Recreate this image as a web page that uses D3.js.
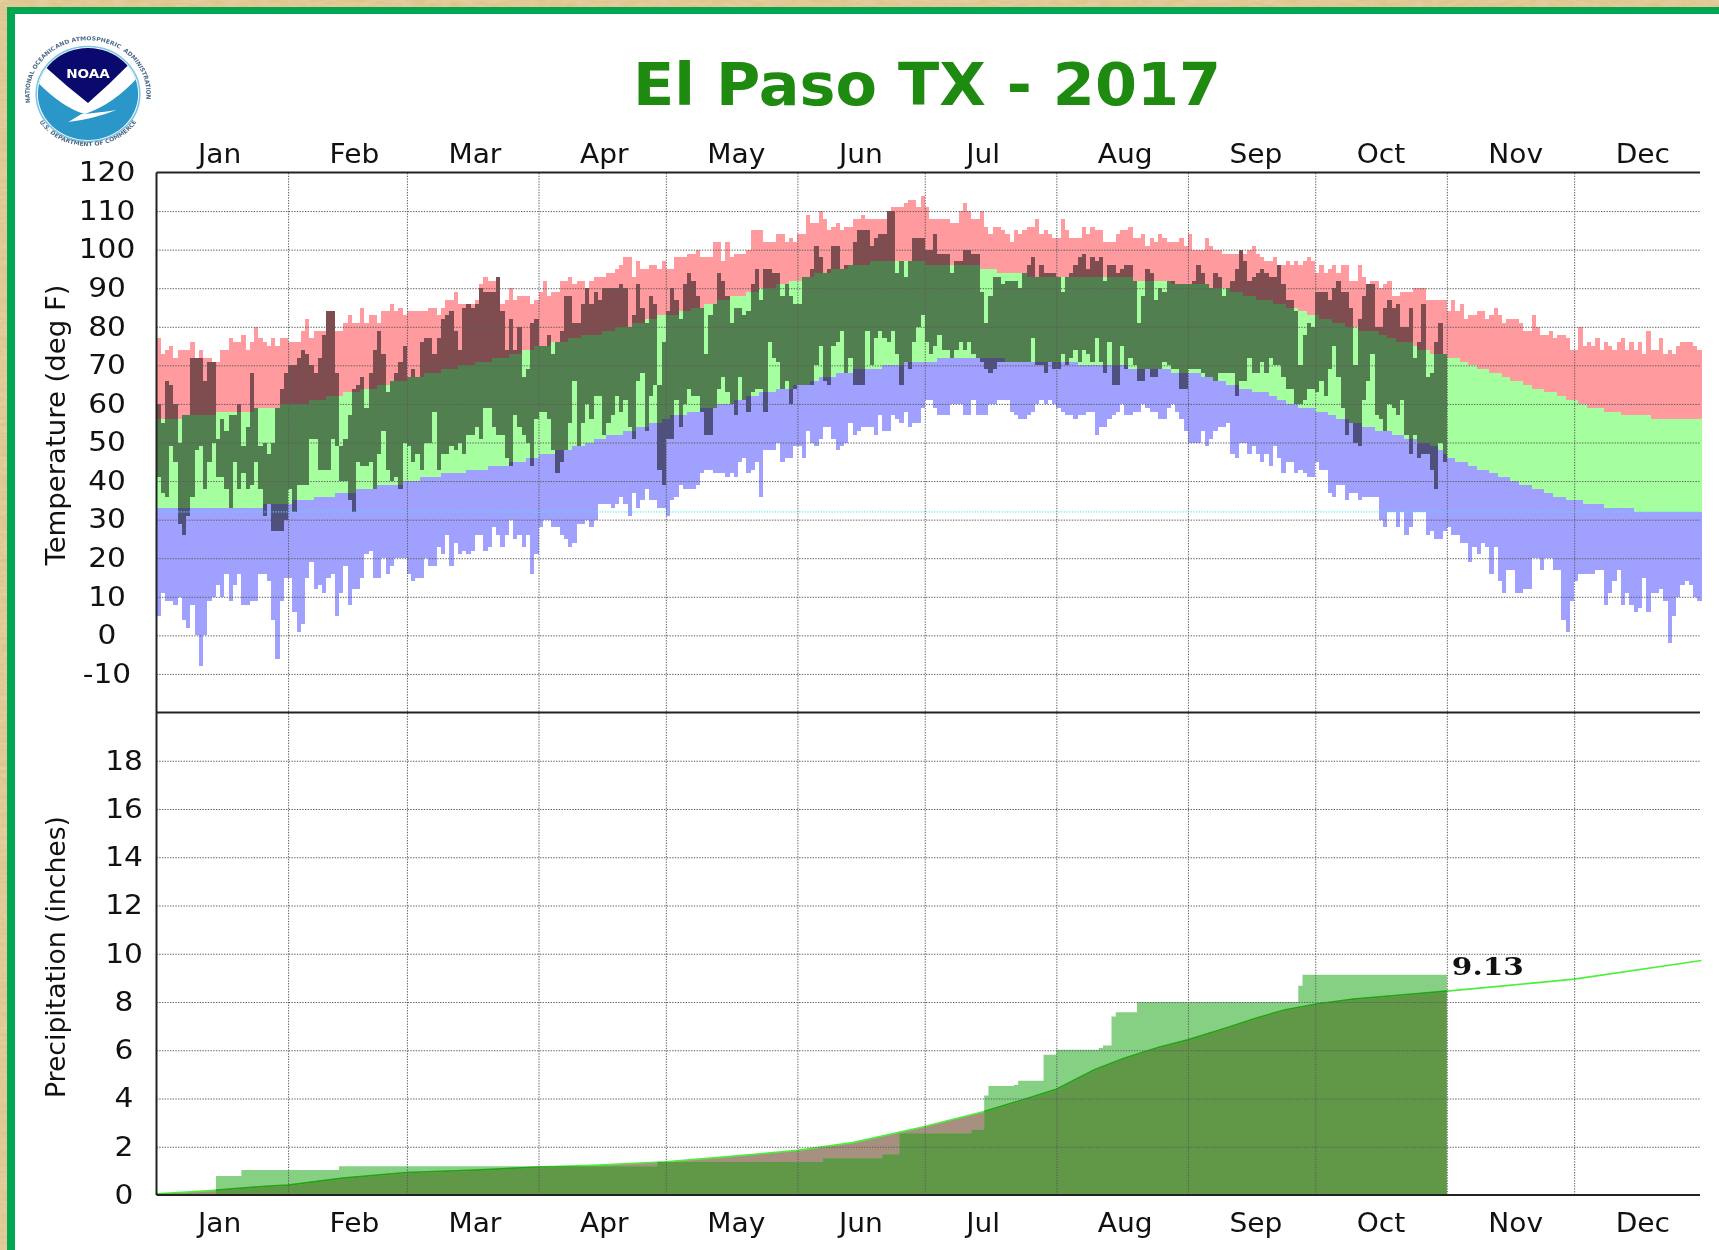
<!DOCTYPE html>
<html>
<head>
<meta charset="utf-8">
<title>El Paso TX - 2017</title>
<script src="https://cdn.jsdelivr.net/npm/d3@7"></script>
<style>
html, body { margin: 0; padding: 0; background: #fff; }
svg { display: block; filter: blur(0.5px); }
text { font-family: "DejaVu Sans", Verdana, sans-serif; fill: #111; }
</style>
</head>
<body>
<div id="container"></div>
<script>
// svg size
const width = 1719;
const height = 1250;

// plot frame
const plotLeft = 156.5;
const plotRight = 1700;
const plotTop = 172.5;
const plotSplit = 712.5;
const plotBottom = 1195;

// font
const tickFontSize = 26;
const tickStretch = 1.14; // the labels of the original are a bit wider than DejaVu
const monthStretch = 1.08;

// colours
const recordHighColor = "#ff9a9f";
const normalColor = "#a5ff9f";
const recordLowColor = "#a0a0ff";
const gridColor = "#5c5c5c";
const precipAboveColor = "#86d084";
const precipOverlapColor = "#609848";
const precipBelowColor = "#a89080";
const titleColor = "#1f8a10";

// labels
const titleText = "El Paso TX - 2017";
const monthNames = ["Jan", "Feb", "Mar", "Apr", "May", "Jun", "Jul", "Aug", "Sep", "Oct", "Nov", "Dec"];
const monthStarts = [0, 31, 59, 90, 120, 151, 181, 212, 243, 273, 304, 334];
const tempTicks = [-10, 0, 10, 20, 30, 40, 50, 60, 70, 80, 90, 100, 110, 120];
const precipTicks = [0, 2, 4, 6, 8, 10, 12, 14, 16, 18];
const freezing = 32;
const precipTotal = "9.13";

// temperatures, one value per day
const recordHigh = [
  77,73,74,75,72,74,74,74,76,72,74,72,72,71,71,74,74,77,76,76,78,74,76,80,77,76,75,77,75,77,77,
  76,76,76,79,82,77,79,79,79,84,84,79,79,81,83,81,81,85,81,83,83,81,84,84,86,84,85,83,
  84,84,84,84,84,85,85,83,85,87,87,89,86,86,86,86,87,91,93,92,92,93,86,87,90,87,88,88,88,86,87,
  89,92,88,89,89,92,92,93,91,92,92,90,92,93,93,93,94,94,95,96,98,98,93,97,95,95,96,96,95,97,
  95,95,98,98,98,99,99,100,98,98,98,102,102,97,102,98,99,99,99,100,105,105,105,102,102,102,104,104,102,103,102,
  104,104,109,107,107,110,108,105,106,107,105,106,106,108,108,109,108,108,108,108,108,110,111,111,111,112,113,113,111,114,
  111,108,108,108,108,108,107,107,110,112,110,108,108,110,106,104,106,106,105,104,102,105,104,105,106,106,108,104,105,104,103,
  103,108,105,103,103,103,106,104,106,105,105,102,102,102,104,105,105,106,103,103,104,101,103,102,104,103,102,102,102,103,101,
  104,100,100,100,103,101,100,100,99,99,99,99,100,99,100,101,99,98,97,97,98,96,96,97,96,97,96,97,98,97,
  94,96,94,95,96,94,96,96,92,92,96,93,91,92,92,90,91,92,88,88,89,89,89,90,90,90,87,87,87,87,87,
  84,87,84,86,82,83,83,84,84,82,83,85,83,81,82,82,82,81,79,79,83,80,78,78,79,77,78,78,77,74,
  74,80,75,76,75,77,74,76,75,74,76,77,74,76,74,76,73,79,74,74,77,73,74,73,75,76,76,76,75,74
];
const recordLow = [
  5,11,9,9,8,10,4,2,8,0,-8,0,9,10,13,10,16,9,13,16,8,8,9,9,16,16,14,4,-6,9,15,
  15,6,1,3,15,19,12,13,11,15,16,5,11,18,8,12,12,15,21,22,15,15,20,16,18,20,20,20,
  16,14,15,15,20,18,18,23,21,26,18,24,21,22,21,22,26,26,22,23,28,26,23,26,30,25,26,23,26,16,21,
  28,30,30,28,28,26,25,23,24,29,29,30,28,30,34,34,34,33,34,36,34,31,37,33,35,38,35,35,33,33,
  31,35,36,39,38,38,38,39,42,43,43,42,42,42,41,42,41,45,46,42,43,45,36,48,48,48,50,45,46,46,49,
  49,46,53,50,49,51,54,54,51,48,49,50,55,52,53,54,54,54,52,57,53,53,57,56,55,58,54,55,55,59,
  61,61,59,57,57,57,60,60,60,57,57,61,57,57,57,60,60,61,61,61,58,57,56,56,57,58,60,61,60,61,60,
  59,58,57,57,56,57,57,58,58,52,54,54,56,57,58,60,57,57,58,58,60,59,58,58,56,56,59,60,58,56,53,
  50,50,50,53,49,51,53,54,54,55,47,46,50,50,47,49,47,45,47,44,49,46,42,45,45,42,43,42,41,41,
  45,43,43,37,36,39,39,35,37,37,35,36,36,36,36,30,28,32,32,28,32,26,28,32,32,32,26,27,25,25,27,
  28,26,26,24,24,19,23,21,24,23,16,23,14,11,17,17,11,11,12,12,20,20,17,20,20,17,17,4,1,9,
  14,16,16,16,16,17,17,8,11,14,17,8,11,8,6,7,15,6,11,11,12,9,-2,5,10,13,14,13,10,9
];
const normalHigh = [
  56,56,56,56,56,56,57,57,57,57,57,57,57,57,58,58,58,58,58,58,58,58,58,59,59,59,59,59,59,60,60,
  60,60,60,60,60,61,61,61,61,62,62,62,62,63,63,63,63,64,64,64,64,65,65,65,66,66,66,66,
  67,67,67,67,68,68,68,68,69,69,69,69,70,70,70,70,71,71,71,71,72,72,72,72,73,73,73,74,74,74,75,
  75,75,75,76,76,76,76,77,77,77,78,78,78,78,78,79,79,79,80,80,80,80,81,81,81,82,82,82,83,83,
  83,83,83,84,84,84,85,85,85,86,86,86,87,87,87,88,88,88,88,89,89,89,90,90,90,90,91,91,91,92,92,
  92,93,93,93,94,94,94,94,95,95,95,95,96,96,96,96,96,97,97,97,97,97,97,97,97,97,97,97,97,97,
  96,96,96,96,96,96,96,96,96,96,96,96,96,95,95,95,95,94,94,94,94,94,94,94,93,93,93,93,93,93,93,
  93,93,93,93,93,93,93,93,93,93,93,93,93,93,93,93,93,93,92,92,92,92,92,92,92,92,92,91,91,91,91,
  91,91,91,91,91,90,90,90,90,90,89,89,89,88,88,88,87,87,87,87,86,86,86,85,85,85,84,84,83,83,
  83,82,82,82,81,81,81,80,80,80,79,79,79,79,79,78,78,77,77,76,76,76,76,75,74,74,74,73,73,73,73,
  72,72,72,71,71,70,70,69,69,69,68,68,68,67,67,66,66,66,65,65,64,64,64,63,63,63,62,62,61,61,
  61,60,60,59,59,59,59,58,58,58,58,57,57,57,57,57,57,57,56,56,56,56,56,56,56,56,56,56,56,56
];
const normalLow = [
  33,33,33,33,33,33,33,33,33,33,33,33,33,33,33,33,33,33,33,33,33,33,33,33,33,34,34,34,34,34,34,
  34,35,35,35,35,35,36,36,36,36,36,37,37,37,37,37,38,38,38,38,38,39,39,39,39,39,39,40,
  40,40,40,41,41,41,41,41,42,42,42,42,42,42,43,43,43,43,43,44,44,44,44,44,45,45,45,45,46,46,46,
  47,47,47,47,48,48,48,48,49,49,49,50,50,51,51,51,52,52,52,52,53,53,53,54,54,54,55,55,55,56,
  56,57,57,57,57,58,58,58,59,59,59,59,60,60,60,60,61,61,61,62,62,62,63,63,63,63,64,64,64,64,65,
  65,65,65,66,66,67,67,67,67,68,68,68,68,69,69,69,69,69,69,69,70,70,70,70,70,71,71,71,71,71,
  71,71,71,72,72,72,72,72,72,72,72,72,72,72,72,72,72,72,72,71,71,71,71,71,71,71,71,71,71,71,71,
  71,71,71,71,71,70,70,70,70,70,70,70,70,70,70,70,70,69,69,69,69,69,69,69,69,69,69,68,68,68,68,
  68,68,68,67,67,67,66,66,66,65,65,65,64,64,64,63,63,63,63,62,62,61,61,60,60,60,59,59,59,59,
  58,58,58,57,57,56,56,56,55,55,55,54,54,54,53,53,53,53,52,52,52,51,51,51,50,50,50,49,49,48,47,
  46,46,45,45,45,44,44,43,43,43,42,42,41,41,41,40,40,39,39,39,38,38,38,37,37,36,36,36,35,35,
  35,35,34,34,34,34,34,33,33,33,33,33,33,33,32,32,32,32,32,32,32,32,32,32,32,32,32,32,32,32
];
// observed days stop at the end of October
const observedHigh = [
  60,55,66,65,60,50,57,57,72,72,72,66,71,71,51,56,53,57,57,60,49,54,68,59,49,50,47,50,59,64,68,
  70,70,72,74,73,70,68,72,78,84,84,68,49,51,57,64,65,67,59,68,74,79,73,63,66,68,71,75,
  67,69,67,76,77,77,73,77,82,83,84,79,74,85,86,85,86,90,89,89,89,93,84,74,82,74,80,67,69,81,82,
  75,75,78,73,76,79,88,88,81,81,86,90,86,89,87,90,90,90,90,91,90,80,83,91,85,81,88,86,65,76,
  84,90,87,82,91,94,92,88,85,73,83,86,94,92,88,81,85,85,83,84,91,95,87,95,95,94,94,88,91,88,86,
  86,93,93,95,101,98,94,95,101,101,95,96,96,102,105,105,105,101,103,104,104,110,110,94,97,93,97,103,103,103,
  100,100,104,99,99,99,94,97,97,100,100,99,99,89,81,88,93,93,91,92,92,92,90,94,96,98,93,96,94,94,94,
  93,89,93,94,96,98,99,95,98,97,98,92,96,96,94,95,96,96,92,81,88,95,94,87,90,89,92,92,91,91,91,
  91,92,96,94,91,90,94,93,88,90,92,95,100,97,92,93,94,95,94,93,93,96,91,87,87,84,70,78,81,80,
  89,89,89,87,90,92,89,89,85,70,82,88,91,91,80,80,85,87,85,86,80,80,85,72,76,86,67,68,76,81,73
];
const observedLow = [
  41,37,36,49,45,29,26,31,36,48,49,38,45,50,41,41,38,33,45,38,42,38,39,45,38,31,34,27,27,27,30,
  38,32,39,39,39,51,51,43,43,43,51,49,40,40,35,32,45,44,44,45,38,47,53,43,40,41,38,50,
  49,45,47,43,50,50,58,43,47,47,49,48,50,47,52,52,54,51,59,59,54,52,52,46,44,57,54,52,50,44,56,
  58,58,56,48,42,45,48,55,66,49,55,60,56,62,62,52,55,57,62,58,61,54,51,66,68,53,62,65,43,39,
  51,51,61,54,60,64,62,62,58,52,52,59,64,67,63,60,57,67,61,58,63,64,64,58,76,72,71,64,66,60,64,
  65,65,65,65,70,75,66,65,75,76,79,68,72,65,65,65,79,70,77,79,77,76,79,73,65,71,69,76,80,83,
  76,73,75,78,74,74,72,74,76,74,76,73,72,71,69,68,69,71,71,71,71,71,71,71,71,77,70,70,68,71,69,
  69,73,70,72,74,71,74,73,71,77,71,68,76,65,65,75,69,72,70,66,66,69,67,67,69,71,70,69,69,64,64,
  69,69,69,68,67,67,66,68,68,68,68,62,66,66,72,68,68,71,68,72,70,70,67,64,64,60,60,61,64,64,
  63,66,62,69,75,67,59,52,55,50,49,61,66,73,57,56,53,60,59,57,61,52,47,52,46,47,47,43,38,50,45
];

// precipitation, curve points of the normal and the steps of the observed total
const normalPrecipDays = [0, 12, 25, 31, 44, 59, 74, 90, 104, 120, 134, 151, 164, 180, 195, 204, 212, 221, 228, 236, 243, 252, 259, 266, 273, 282, 294, 304, 318, 334, 364];
const normalPrecip = [0.05, 0.17, 0.35, 0.41, 0.7, 0.93, 1.02, 1.16, 1.24, 1.38, 1.58, 1.85, 2.17, 2.8, 3.46, 3.94, 4.38, 5.19, 5.67, 6.11, 6.43, 6.92, 7.33, 7.68, 7.91, 8.12, 8.3, 8.45, 8.68, 8.95, 9.72];
const observedPrecipDays = [0, 14, 20, 43, 118, 157, 171, 175, 192, 195, 196, 202, 203, 209, 212, 222, 223, 225, 226, 231, 269, 270, 304];
const observedPrecip = [0.05, 0.79, 1.04, 1.19, 1.37, 1.52, 1.69, 2.56, 2.7, 4.12, 4.52, 4.56, 4.74, 5.81, 6.02, 6.09, 6.2, 7.4, 7.57, 8.0, 8.67, 9.13, 9.13];

// do not modify past this point

const svg = d3.select("#container").append("svg")
  .attr("width", width)
  .attr("height", height)
  .attr("viewBox", [0, 0, width, height]);

const defs = svg.append("defs");

const x = d3.scaleLinear().domain([0, 364]).range([plotLeft, plotRight + 1.5]);
const yTemp = d3.scaleLinear().domain([-20, 120]).range([plotSplit, plotTop]);
const yPrecip = d3.scaleLinear().domain([0, 20]).range([plotBottom, plotSplit]);

function drawFrame() {
  // rough tan paper behind the green border
  const paper = defs.append("filter").attr("id", "paper")
    .attr("x", 0).attr("y", 0).attr("width", 1).attr("height", 1);
  paper.append("feTurbulence").attr("type", "fractalNoise").attr("baseFrequency", "0.08 0.3")
    .attr("numOctaves", 2).attr("seed", 4).attr("result", "noise");
  paper.append("feColorMatrix").attr("in", "noise").attr("type", "matrix")
    .attr("values", "0 0 0 0 0.82  0 0 0 0 0.67  0 0 0 0 0.40  0.9 0 0 0 -0.1").attr("result", "tint");
  paper.append("feBlend").attr("in", "tint").attr("in2", "SourceGraphic");

  svg.append("rect").attr("width", width).attr("height", height).attr("fill", "#fff");
  svg.append("rect").attr("width", width).attr("height", 8).attr("fill", "#dcc288").attr("filter", "url(#paper)");
  svg.append("rect").attr("width", 7).attr("height", height).attr("fill", "#dcc288").attr("filter", "url(#paper)");
  svg.append("rect").attr("x", 7).attr("y", 7).attr("width", width - 7).attr("height", 7).attr("fill", "#00a651");
  svg.append("rect").attr("x", 7).attr("y", 7).attr("width", 8).attr("height", height - 7).attr("fill", "#00a651");
}

function drawLogo() {
  const logo = svg.append("g").attr("transform", "translate(88,94) scale(1.09,1)");

  defs.append("clipPath").attr("id", "disc").append("circle").attr("r", 46);
  defs.append("path").attr("id", "ringLeft").attr("d", "M-53,8 A53.5,53.5 0 0 1 -30,-44.5");
  defs.append("path").attr("id", "ringTop").attr("d", "M-30,-44.5 A53.5,53.5 0 0 1 30,-44.5");
  defs.append("path").attr("id", "ringRight").attr("d", "M30,-44.5 A53.5,53.5 0 0 1 53,8");
  defs.append("path").attr("id", "ringBottom").attr("d", "M-44,29 A53.5,53.5 0 0 0 44,29");

  logo.append("circle").attr("r", 46).attr("fill", "#2b97c9");
  logo.append("circle").attr("r", 47.5).attr("fill", "none").attr("stroke", "#7fc4de").attr("stroke-width", 1.5);

  const inner = logo.append("g").attr("clip-path", "url(#disc)");
  inner.append("path").attr("fill", "#fff")
    .attr("d", "M-50,-16 Q-25,13 -3,20 Q25,10 50,-22 L50,-50 L-50,-50 Z");
  inner.append("path").attr("fill", "#0a0a6e")
    .attr("d", "M-39,-27 A46,46 0 0 1 37,-29 Q20,-10 0,9 Q-20,-8 -39,-27 Z");
  inner.append("path").attr("fill", "#fff")
    .attr("d", "M-18,28 Q5,25 26,16 Q8,19 -6,20 Z");

  logo.append("text").attr("y", -16).attr("text-anchor", "middle")
    .attr("font-size", 12.5).attr("font-weight", "bold").style("fill", "#fff").text("NOAA");

  const ringText = (pathId, label) => logo.append("text")
    .attr("font-size", 5.6).attr("font-weight", "bold").style("fill", "#4a6a8a")
    .append("textPath").attr("href", "#" + pathId).attr("startOffset", "50%").attr("text-anchor", "middle")
    .text(label);

  ringText("ringLeft", "NATIONAL OCEANIC");
  ringText("ringTop", "AND ATMOSPHERIC");
  ringText("ringRight", "ADMINISTRATION");
  ringText("ringBottom", "U.S. DEPARTMENT OF COMMERCE");
}

function dayBars(data, name, fill, opacity, top, bottom) {
  // rounded so that neighbouring translucent bars do not overlap
  svg.append("g").attr("class", name)
    .attr("shape-rendering", "crispEdges")
    .attr("fill", fill)
    .attr("fill-opacity", opacity)
    .selectAll("rect")
    .data(data)
    .join("rect")
    .attr("x", (d, i) => Math.round(x(i)))
    .attr("width", (d, i) => Math.round(x(i + 1)) - Math.round(x(i)))
    .attr("y", d => Math.round(yTemp(top(d))))
    .attr("height", d => Math.round(yTemp(bottom(d))) - Math.round(yTemp(top(d))));
}

function drawTemperature() {
  const days = recordHigh.map((v, i) => ({
    recHigh: v,
    recLow: recordLow[i],
    normHigh: normalHigh[i],
    normLow: normalLow[i]
  }));
  const observed = observedHigh.map((v, i) => ({ high: v, low: observedLow[i] }));

  dayBars(days, "record-high", recordHighColor, 1, d => d.recHigh, d => d.normHigh);
  dayBars(days, "normal", normalColor, 1, d => d.normHigh, d => d.normLow);
  dayBars(days, "record-low", recordLowColor, 1, d => d.normLow, d => d.recLow);
  dayBars(observed, "observed", "#000", 0.5, d => d.high, d => d.low);
}

function drawPrecipitation() {
  const normalPoints = normalPrecipDays.map((d, i) => [d, normalPrecip[i]]);
  const observedPoints = observedPrecipDays.map((d, i) => [d, observedPrecip[i]]);
  const normalToDate = normalPoints.filter(p => p[0] <= 304);

  const area = d3.area()
    .x(p => x(p[0]))
    .y0(yPrecip(0))
    .y1(p => yPrecip(p[1]));
  const stepArea = d3.area()
    .curve(d3.curveStepAfter)
    .x(p => x(p[0]))
    .y0(yPrecip(0))
    .y1(p => yPrecip(p[1]));
  const line = d3.line()
    .x(p => x(p[0]))
    .y(p => yPrecip(p[1]));

  defs.append("clipPath").attr("id", "observedClip")
    .append("path").attr("d", stepArea(observedPoints));

  svg.append("path").attr("d", area(normalToDate)).attr("fill", precipBelowColor);
  svg.append("path").attr("d", stepArea(observedPoints)).attr("fill", precipAboveColor);
  svg.append("path").attr("d", area(normalToDate)).attr("fill", precipOverlapColor)
    .attr("clip-path", "url(#observedClip)");

  svg.append("path").attr("d", line(normalPoints)).attr("fill", "none")
    .attr("stroke", "#4cf03c").attr("stroke-width", 1.6);
  svg.append("path").attr("d", line(normalPoints)).attr("fill", "none")
    .attr("stroke", "#2e9a22").attr("stroke-width", 1.6)
    .attr("clip-path", "url(#observedClip)");

  svg.append("text")
    .attr("x", x(304) + 5)
    .attr("y", yPrecip(9.13))
    .attr("font-size", 25)
    .attr("font-weight", "bold")
    .style("font-family", "'DejaVu Serif', serif")
    .attr("textLength", 72)
    .attr("lengthAdjust", "spacingAndGlyphs")
    .text(precipTotal);
}

function drawGrid() {
  const gridStyle = g => {
    g.select(".domain").remove();
    g.selectAll("line")
      .attr("stroke", gridColor)
      .attr("stroke-width", 1)
      .attr("stroke-dasharray", "1.35,1.35");
  };

  svg.append("g")
    .attr("transform", `translate(0,${plotBottom})`)
    .call(d3.axisBottom(x).tickValues(monthStarts.slice(1)).tickSize(plotTop - plotBottom).tickFormat(""))
    .call(gridStyle);

  svg.append("g")
    .attr("transform", `translate(${plotLeft},0)`)
    .call(d3.axisLeft(yTemp).tickValues(tempTicks.slice(0, -1)).tickSize(plotLeft - plotRight).tickFormat(""))
    .call(gridStyle);

  svg.append("g")
    .attr("transform", `translate(${plotLeft},0)`)
    .call(d3.axisLeft(yPrecip).tickValues(precipTicks.slice(1)).tickSize(plotLeft - plotRight).tickFormat(""))
    .call(gridStyle);

  // freezing line
  svg.append("line")
    .attr("x1", x(0)).attr("x2", plotRight)
    .attr("y1", yTemp(freezing)).attr("y2", yTemp(freezing))
    .attr("stroke", "#30f0f0")
    .attr("stroke-dasharray", "1.35,1.35");
}

function drawAxes() {
  const plain = (g, stretch) => {
    g.select(".domain").remove();
    g.selectAll("line").remove();
    g.selectAll("text")
      .attr("font-size", tickFontSize)
      .attr("font-family", null)
      .attr("textLength", function() { return this.getComputedTextLength() * stretch; })
      .attr("lengthAdjust", "spacingAndGlyphs");
  };

  const monthLabel = (g, dy) => {
    plain(g, monthStretch);
    g.selectAll("text").attr("text-anchor", "start").attr("x", 41).attr("y", dy).attr("dy", null);
  };

  svg.append("g")
    .attr("transform", `translate(0,${plotTop})`)
    .call(d3.axisTop(x).tickValues(monthStarts).tickFormat((d, i) => monthNames[i]))
    .call(g => monthLabel(g, -10));

  svg.append("g")
    .attr("transform", `translate(0,${plotBottom})`)
    .call(d3.axisBottom(x).tickValues(monthStarts).tickFormat((d, i) => monthNames[i]))
    .call(g => monthLabel(g, 37));

  svg.append("g")
    .attr("transform", "translate(107,0)")
    .call(d3.axisLeft(yTemp).tickValues(tempTicks).tickFormat(d => String(d)))
    .call(g => plain(g, tickStretch))
    .call(g => g.selectAll("text").attr("text-anchor", "middle").attr("x", 0));

  svg.append("g")
    .attr("transform", "translate(124,0)")
    .call(d3.axisLeft(yPrecip).tickValues(precipTicks).tickFormat(d => String(d)))
    .call(g => plain(g, tickStretch))
    .call(g => g.selectAll("text").attr("text-anchor", "middle").attr("x", 0));

  // frame lines
  const frame = svg.append("g").attr("stroke", "#222").attr("stroke-width", 2);
  frame.append("line").attr("x1", plotLeft).attr("x2", plotRight).attr("y1", plotTop).attr("y2", plotTop);
  frame.append("line").attr("x1", plotLeft).attr("x2", plotRight).attr("y1", plotSplit).attr("y2", plotSplit);
  frame.append("line").attr("x1", plotLeft).attr("x2", plotRight).attr("y1", plotBottom).attr("y2", plotBottom);
  frame.append("line").attr("x1", plotLeft).attr("x2", plotLeft).attr("y1", plotTop).attr("y2", plotBottom);

  const axisTitle = (label, cy, length) => svg.append("text")
    .attr("transform", `translate(65,${cy}) rotate(-90)`)
    .attr("text-anchor", "middle")
    .attr("font-size", 26)
    .attr("textLength", length)
    .attr("lengthAdjust", "spacingAndGlyphs")
    .text(label);

  axisTitle("Temperature (deg F)", 425, 281);
  axisTitle("Precipitation (inches)", 957, 282);
}

function drawTitle() {
  svg.append("text")
    .attr("x", 633)
    .attr("y", 105)
    .attr("font-size", 58)
    .attr("font-weight", "bold")
    .attr("textLength", 588)
    .attr("lengthAdjust", "spacingAndGlyphs")
    .style("fill", titleColor)
    .text(titleText);
}

drawFrame();
drawLogo();
drawTitle();
drawTemperature();
drawPrecipitation();
drawGrid();
drawAxes();
</script>
</body>
</html>
